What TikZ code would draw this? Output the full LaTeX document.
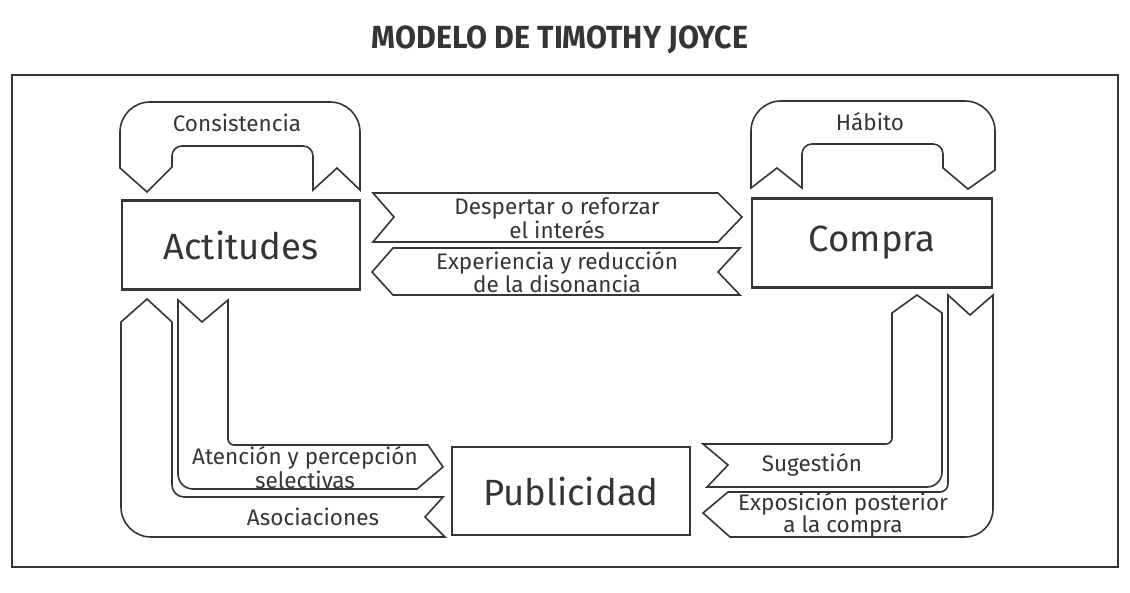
\documentclass[tikz,border=0pt]{standalone}
\usepackage{fontspec}
\setmainfont{Fira Sans}
\newfontfamily\titlefont[FakeStretch=0.95]{Fira Sans}
\usetikzlibrary{positioning}

\definecolor{ink}{HTML}{353535}

\begin{document}
\begin{tikzpicture}[x=1pt,y=-1pt,
  every node/.style={text=ink},
  box/.style={draw=ink,line width=2.6pt,minimum width=238pt,minimum height=89pt,inner sep=0pt,font=\fontsize{36.5}{40}\selectfont},
  band/.style={draw=ink,line width=1.6pt},
  lbl/.style={align=center,inner sep=0pt,font=\fontsize{22.5}{21.5}\selectfont}]
 \useasboundingbox (0,0) rectangle (1130,593);

 % Title and frame
 \node (title) at (560,40) {\titlefont\bfseries\fontsize{32}{34}\selectfont MODELO DE TIMOTHY JOYCE};
 \draw[ink,line width=1.6pt] (12,75) rectangle (1118,567);

 % Boxes
 \node[box] (act) at (241,245) {Actitudes};
 \node[box,minimum width=240pt] (com) at (872,243) {Compra};
 \node[box,minimum height=88pt] (pub) at (571,491) {Publicidad};

 % Consistencia (loop over Actitudes)
 \draw[band] (147,192) -- (120,168) [rounded corners=30pt] -- (120,102) -- (360,102)
   [sharp corners] -- (360,190) -- (337,168) -- (313,190) [rounded corners=10pt] -- (313,146) -- (172,146)
   [sharp corners] -- (172,167) -- cycle;
 \node[lbl] (cons) at (237,123) {Consistencia};

 % Habito (loop over Compra)
 \draw[band] (777,168) -- (751,188) [rounded corners=30pt] -- (751,101) -- (995,101)
   [sharp corners] -- (995,170) -- (968,189) -- (943,168) [rounded corners=10pt] -- (943,144) -- (802,144)
   [sharp corners] -- (802,188) -- cycle;
 \node[lbl] (hab) at (870,122) {Hábito};

 % Actitudes <-> Compra
 \draw[band] (373,193) -- (718,193) -- (742,217) -- (718,242) -- (373,242) -- (394,217) -- cycle;
 \node[lbl] (desp) at (557,218) {Despertar o reforzar\\el interés};
 \draw[band] (372,272) -- (393,248) -- (740,248) -- (718,272) -- (740,295) -- (393,295) -- cycle;
 \node[lbl] (expe) at (557,272) {Experiencia y reducción\\de la disonancia};

 % Actitudes <-> Publicidad
 \draw[band] (202,322) -- (228,300) [rounded corners=6pt] -- (228,445)
   [sharp corners] -- (428,445) -- (443,467) -- (417,489) [rounded corners=15pt] -- (178,489)
   [sharp corners] -- (178,300) -- cycle;
 \node[lbl] (aten) at (305,467.5) {Atención y percepción\\selectivas};
 \draw[band] (147,299) -- (172,322) [rounded corners=12pt] -- (172,497)
   [sharp corners] -- (443,497) -- (425,517) -- (445,537) [rounded corners=30pt] -- (121,537)
   [sharp corners] -- (121,322) -- cycle;
 \node[lbl] (asoc) at (313,517) {Asociaciones};

 % Compra <-> Publicidad
 \draw[band] (917,295) -- (942,313) [rounded corners=15pt] -- (942,487)
   [sharp corners] -- (707,487) -- (728,465) -- (703,444) [rounded corners=6pt] -- (892,444)
   [sharp corners] -- (892,313) -- cycle;
 \node[lbl] (suge) at (812,465) {Sugestión};
 \draw[band] (948,295) -- (970,315) -- (993,295) [rounded corners=28pt] -- (993,537)
   [sharp corners] -- (730,537) -- (703,513) -- (728,492) [rounded corners=8pt] -- (948,492)
   [sharp corners] -- cycle;
 \node[lbl] (expo) at (843,515) {Exposición posterior\\a la compra};
\end{tikzpicture}
\end{document}
